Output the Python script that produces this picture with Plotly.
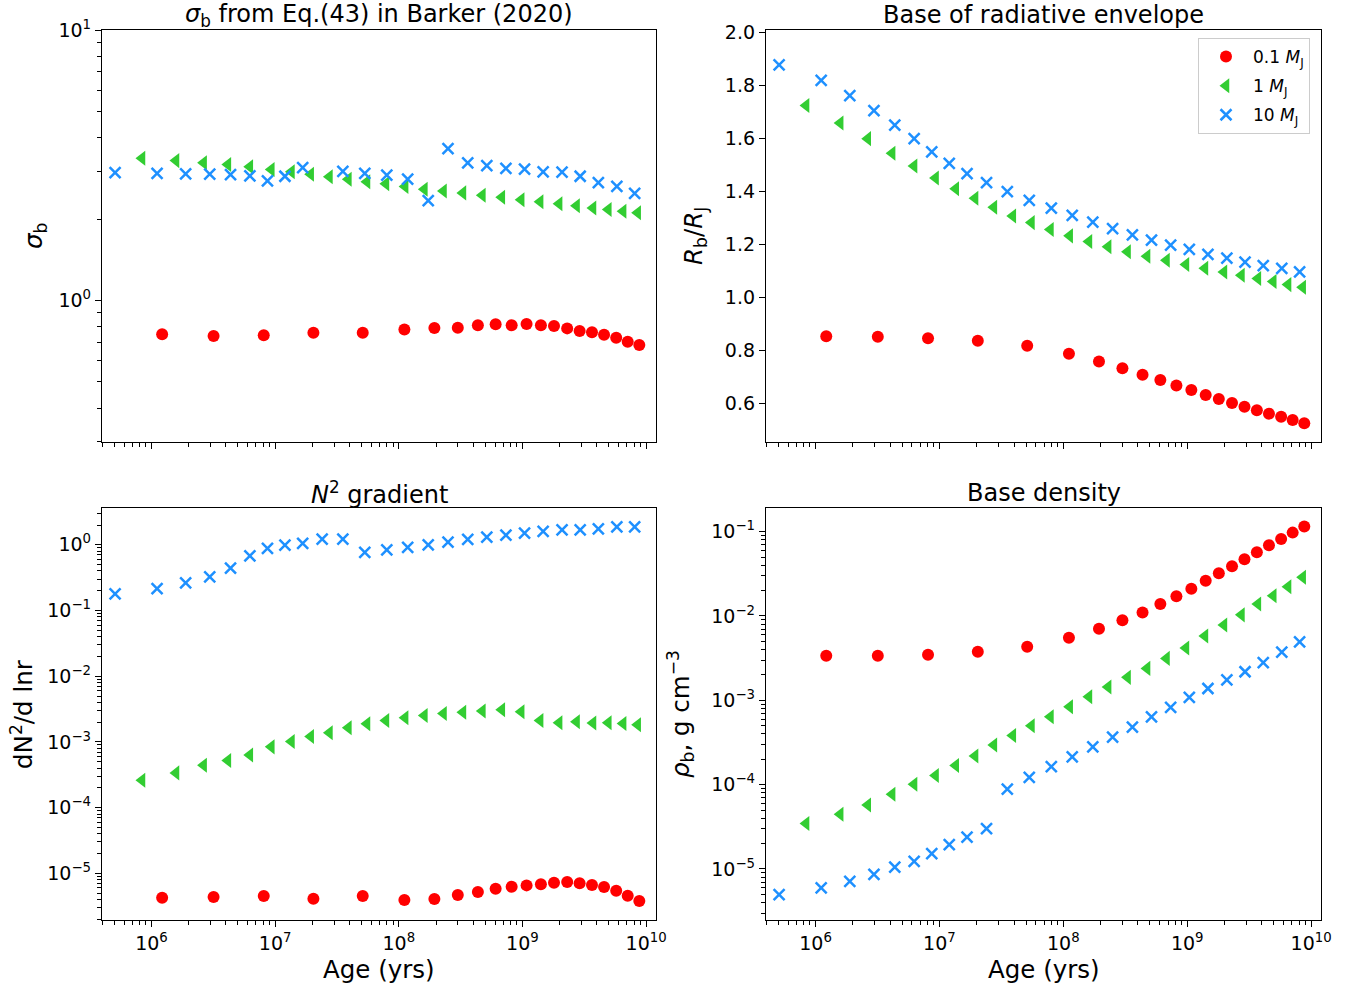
import plotly.graph_objects as go

# ---------------- data ----------------
ages_01 = [1.22e6, 3.18e6, 8.09e6, 2.04e7, 5.11e7, 1.11e8, 1.94e8, 3.0e8, 4.36e8, 6.07e8, 8.18e8,
           1.08e9, 1.41e9, 1.80e9, 2.30e9, 2.90e9, 3.65e9, 4.57e9, 5.73e9, 7.10e9, 8.81e9]
ages_1 = [8.38e5, 1.58e6, 2.64e6, 4.15e6, 6.24e6, 9.31e6, 1.355e7, 1.94e7, 2.75e7, 3.91e7, 5.53e7,
          7.87e7, 1.125e8, 1.61e8, 2.30e8, 3.30e8, 4.74e8, 6.81e8, 9.77e8, 1.39e9, 1.98e9, 2.74e9,
          3.72e9, 4.95e9, 6.52e9, 8.55e9]
ages_10 = [5.08e5, 1.11e6, 1.89e6, 2.96e6, 4.36e6, 6.25e6, 8.67e6, 1.2e7, 1.67e7, 2.4e7, 3.53e7,
           5.31e7, 8.0e7, 1.18e8, 1.73e8, 2.5e8, 3.61e8, 5.15e8, 7.35e8, 1.04e9, 1.47e9, 2.09e9,
           2.93e9, 4.11e9, 5.8e9, 8.08e9]

sigma_01 = [0.75, 0.739, 0.744, 0.76, 0.76, 0.782, 0.791, 0.793, 0.81, 0.817, 0.81, 0.819, 0.81,
            0.805, 0.789, 0.771, 0.763, 0.747, 0.729, 0.704, 0.685]
sigma_1 = [3.36, 3.29, 3.23, 3.18, 3.12, 3.05, 2.99, 2.93, 2.87, 2.81, 2.75, 2.70, 2.64, 2.58, 2.54,
           2.50, 2.45, 2.41, 2.36, 2.32, 2.28, 2.24, 2.20, 2.17, 2.14, 2.11]
sigma_10 = [2.97, 2.95, 2.94, 2.93, 2.92, 2.89, 2.77, 2.88, 3.10, None, 3.00, 2.95, 2.91, 2.81, 2.34,
            3.64, 3.23, 3.15, 3.08, 3.06, 2.99, 2.98, 2.88, 2.73, 2.64, 2.49]

rb_01 = [0.854, 0.852, 0.847, 0.837, 0.818, 0.788, 0.759, 0.733, 0.709, 0.689, 0.668, 0.651, 0.632,
         0.617, 0.602, 0.588, 0.575, 0.562, 0.550, 0.538, 0.526]
rb_1 = [1.725, 1.659, 1.600, 1.545, 1.497, 1.451, 1.411, 1.375, 1.341, 1.308, 1.283, 1.257, 1.233,
        1.212, 1.192, 1.173, 1.156, 1.141, 1.125, 1.111, 1.097, 1.084, 1.072, 1.061, 1.049, 1.039]
rb_10 = [1.878, 1.820, 1.762, 1.706, 1.651, 1.600, 1.550, 1.507, 1.468, 1.434, 1.400, 1.367, 1.338,
         1.310, 1.285, 1.260, 1.237, 1.217, 1.198, 1.182, 1.163, 1.149, 1.134, 1.121, 1.110, 1.097]

n2_01 = [4.26e-6, 4.35e-6, 4.51e-6, 4.11e-6, 4.51e-6, 3.92e-6, 4.06e-6, 4.68e-6, 5.19e-6, 5.83e-6,
         6.25e-6, 6.56e-6, 6.80e-6, 7.21e-6, 7.38e-6, 7.05e-6, 6.64e-6, 6.18e-6, 5.44e-6, 4.57e-6,
         3.79e-6]
n2_1 = [2.62e-4, 3.38e-4, 4.43e-4, 5.21e-4, 6.35e-4, 8.41e-4, 1.016e-3, 1.21e-3, 1.38e-3, 1.64e-3,
        1.89e-3, 2.12e-3, 2.33e-3, 2.53e-3, 2.71e-3, 2.84e-3, 2.95e-3, 3.09e-3, 2.88e-3, 2.12e-3,
        1.96e-3, 2.03e-3, 1.94e-3, 1.96e-3, 1.91e-3, 1.82e-3]
n2_10 = [0.179, 0.216, 0.264, 0.325, 0.441, 0.68, 0.88, 0.99, 1.05, 1.22, 1.22, 0.77, 0.84, 0.91,
         1.0, 1.10, 1.21, 1.31, 1.40, 1.51, 1.60, 1.69, 1.69, 1.75, 1.88, 1.88]

rho_01 = [3.37e-3, 3.37e-3, 3.47e-3, 3.77e-3, 4.32e-3, 5.52e-3, 7.06e-3, 8.87e-3, 1.10e-2, 1.39e-2,
          1.71e-2, 2.10e-2, 2.62e-2, 3.21e-2, 3.88e-2, 4.70e-2, 5.69e-2, 6.89e-2, 8.19e-2, 9.73e-2,
          0.115]
rho_1 = [3.46e-5, 4.46e-5, 5.75e-5, 7.71e-5, 1.01e-4, 1.28e-4, 1.69e-4, 2.19e-4, 2.96e-4, 3.83e-4,
         4.98e-4, 6.37e-4, 8.37e-4, 1.10e-3, 1.44e-3, 1.87e-3, 2.39e-3, 3.14e-3, 4.17e-3, 5.78e-3,
         7.81e-3, 1.03e-2, 1.39e-2, 1.74e-2, 2.22e-2, 2.88e-2]
rho_10 = [4.97e-6, 5.95e-6, 7.14e-6, 8.65e-6, 1.05e-5, 1.23e-5, 1.52e-5, 1.95e-5, 2.38e-5, 3.01e-5,
          8.83e-5, 1.22e-4, 1.63e-4, 2.14e-4, 2.81e-4, 3.66e-4, 4.81e-4, 6.37e-4, 8.24e-4, 1.08e-3,
          1.38e-3, 1.75e-3, 2.18e-3, 2.79e-3, 3.73e-3, 4.94e-3]

labels = ["0.1 <i>M</i><sub>J</sub>", "1 <i>M</i><sub>J</sub>", "10 <i>M</i><sub>J</sub>"]
titles = ["<i>σ</i><sub>b</sub> from Eq.(43) in Barker (2020)", "Base of radiative envelope",
          "<i>N</i><sup>2</sup> gradient", "Base density"]
ylabels = ["<i>σ</i><sub>b</sub>", "<i>R</i><sub>b</sub>/<i>R</i><sub>J</sub>",
           "dN<sup>2</sup>/d lnr", "<i>ρ</i><sub>b</sub>, g cm<sup>−3</sup>"]
xlabel = "Age (yrs)"
x_decades = [6, 7, 8, 9, 10]
y_decades = [[-1, 0, 1], None, [-5, -4, -3, -2, -1, 0], [-5, -4, -3, -2, -1]]
rb_ticks = [0.6, 0.8, 1.0, 1.2, 1.4, 1.6, 1.8, 2.0]

# ---------------- layout helpers ----------------
W, H = 1357, 989
FONT = "DejaVu Sans"
RED, GREEN, BLUE = "#ff0000", "#32cd32", "#1e90ff"

panels = [  # pixel boxes: x0, x1, y0(top), y1(bottom)
    (102, 656, 30, 442),
    (766, 1321, 30, 442),
    (102, 656, 508, 920),
    (766, 1321, 508, 920),
]


def fx(p):
    return p / W


def fy(p):
    return (H - p) / H


def pow_label(e):
    return "10<sup>" + (str(e) if e >= 0 else "−" + str(-e)) + "</sup>"


def minor_vals(lo, hi):
    out = []
    for d in range(lo, hi + 1):
        for m in range(2, 10):
            out.append(m * 10.0 ** d)
    return out


fig = go.Figure()

series = [
    (ages_01, [sigma_01, rb_01, n2_01, rho_01], dict(symbol="circle", size=12, color=RED)),
    (ages_1, [sigma_1, rb_1, n2_1, rho_1], dict(symbol="triangle-left", size=13, color=GREEN)),
    (ages_10, [sigma_10, rb_10, n2_10, rho_10],
     dict(symbol="x-thin", size=11, color=BLUE, line=dict(width=2.5, color=BLUE))),
]

for k in range(4):
    for si, (ages, ys, mk) in enumerate(series):
        fig.add_trace(go.Scatter(
            x=ages, y=ys[k], mode="markers", marker=mk, name=labels[si],
            legendgroup=f"g{si}", showlegend=(k == 1), xaxis=f"x{k+1}", yaxis=f"y{k+1}",
        ))

axis_common = dict(
    showline=True, linecolor="black", linewidth=1.3, mirror=True,
    ticks="outside", ticklen=6, tickwidth=1.3, tickcolor="black",
    showgrid=False, zeroline=False, automargin=False,
    tickfont=dict(family=FONT, size=19, color="black"),
)


def minor_log(lo, hi):
    return dict(ticks="outside", ticklen=3.5, tickwidth=1, tickcolor="black", showgrid=False,
                tickmode="array", tickvals=minor_vals(lo, hi))


yranges = [(-0.5229, 1.0), (0.455, 2.01), (-5.71, 0.56), (-5.605, -0.72)]
ytypes = ["log", "linear", "log", "log"]

layout = dict(
    width=W, height=H, margin=dict(l=0, r=0, t=0, b=0, autoexpand=False),
    paper_bgcolor="white", plot_bgcolor="white",
    font=dict(family=FONT, color="black"),
    legend=dict(
        x=fx(1310), y=fy(38), xanchor="right", yanchor="top",
        bgcolor="rgba(255,255,255,0.8)", bordercolor="#cccccc", borderwidth=1,
        font=dict(family=FONT, size=17, color="black"), tracegroupgap=4, itemwidth=44,
    ),
)

for k, (x0, x1, y0, y1) in enumerate(panels):
    xa = dict(axis_common)
    xa.update(type="log", range=[5.6, 10.08], domain=[fx(x0), fx(x1)], anchor=f"y{k+1}",
              tickmode="array", tickvals=[10.0 ** e for e in x_decades],
              ticktext=[pow_label(e) for e in x_decades],
              showticklabels=(k >= 2), minor=minor_log(5, 9))
    ya = dict(axis_common)
    ya.update(type=ytypes[k], range=list(yranges[k]), domain=[fy(y1), fy(y0)], anchor=f"x{k+1}")
    if ytypes[k] == "log":
        dec = y_decades[k]
        ya.update(tickmode="array", tickvals=[10.0 ** e for e in dec],
                  ticktext=[pow_label(e) for e in dec], minor=minor_log(dec[0] - 1, dec[-1]))
    else:
        ya.update(tickmode="array", tickvals=rb_ticks, ticktext=[f"{v:.1f}" for v in rb_ticks])
    layout[f"xaxis{k+1}" if k else "xaxis"] = xa
    layout[f"yaxis{k+1}" if k else "yaxis"] = ya

fig.update_layout(**layout)

# titles
ylab_x = [35, 695, 22, 680]
for k, (x0, x1, y0, y1) in enumerate(panels):
    fig.add_annotation(text=titles[k], x=fx((x0 + x1) / 2), y=fy(y0 - 15), xref="paper", yref="paper",
                       showarrow=False, xanchor="center", yanchor="middle",
                       font=dict(family=FONT, size=24, color="black"))
    fig.add_annotation(text=ylabels[k], x=fx(ylab_x[k]), y=fy((y0 + y1) / 2), xref="paper", yref="paper",
                       showarrow=False, xanchor="center", yanchor="middle", textangle=-90,
                       font=dict(family=FONT, size=24.5, color="black"))
    if k >= 2:
        fig.add_annotation(text=xlabel, x=fx((x0 + x1) / 2), y=fy(969), xref="paper", yref="paper",
                           showarrow=False, xanchor="center", yanchor="middle",
                           font=dict(family=FONT, size=24.5, color="black"))

fig.write_html("out.html", config={"displayModeBar": False},
               post_script="document.body.style.margin='0';document.body.style.overflow='hidden';")
